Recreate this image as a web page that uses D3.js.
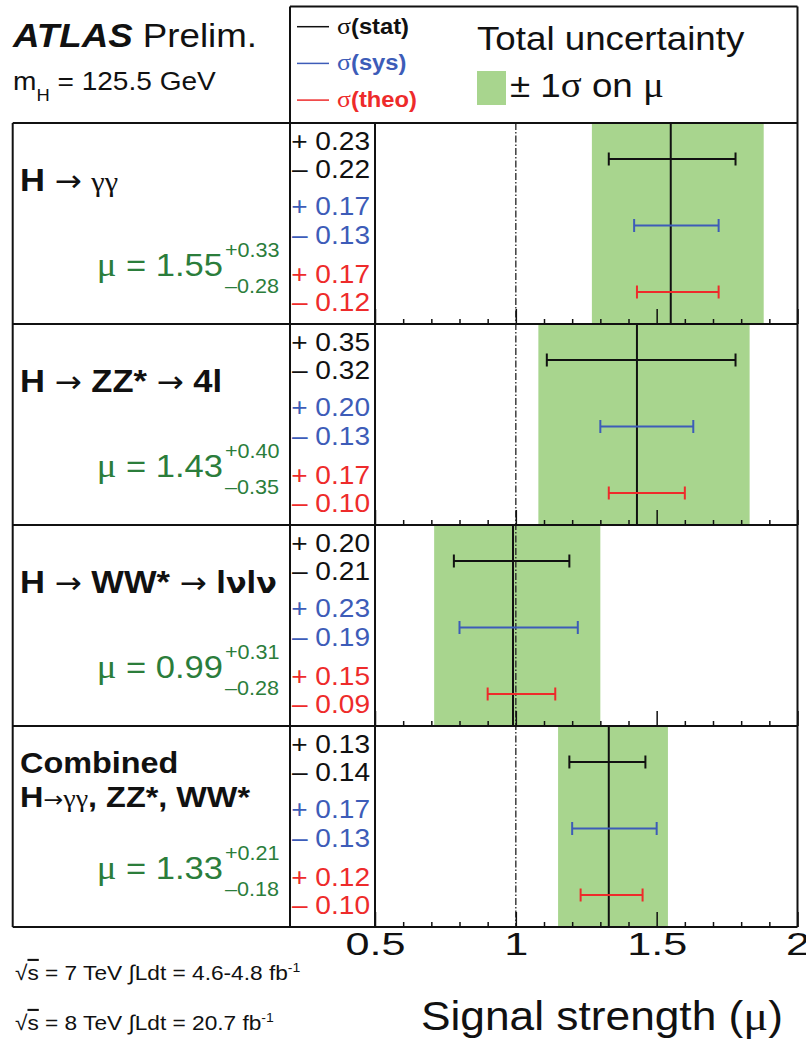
<!DOCTYPE html>
<html>
<head>
<meta charset="utf-8">
<script src="https://cdn.jsdelivr.net/npm/d3@7"></script>
<style>
  html, body { margin: 0; padding: 0; background: #fff; }
  svg { display: block; font-family: "Liberation Sans", Arial, Helvetica, sans-serif; }
  .greek { font-family: "Liberation Serif", "DejaVu Serif", serif; }
</style>
</head>
<body>
<div id="chart"></div>
<script>
// decay channels, top to bottom
const channels = ["H → γγ", "H → ZZ* → 4l", "H → WW* → lνlν", "Combined|H→γγ, ZZ*, WW*"];

// signal strength and its uncertainties
const mu = [1.55, 1.43, 0.99, 1.33];
const totalUp = [0.33, 0.40, 0.31, 0.21];
const totalDown = [0.28, 0.35, 0.28, 0.18];
const statUp = [0.23, 0.35, 0.20, 0.13];
const statDown = [0.22, 0.32, 0.21, 0.14];
const sysUp = [0.17, 0.20, 0.23, 0.17];
const sysDown = [0.13, 0.13, 0.19, 0.13];
const theoUp = [0.17, 0.17, 0.15, 0.12];
const theoDown = [0.12, 0.10, 0.09, 0.10];

const axisTicks = [0.5, 1, 1.5, 2];
const minorTicks = d3.range(5, 21).map(d => d / 10);
const legendEntries = ["stat", "sys", "theo"];
const energies = ["7", "8"];
const lumis = ["4.6-4.8", "20.7"];

const W = 806, H = 1041, SX = 1.08;
const green = "#2b7d3b", band = "#a8d58e";
const rowColors = ["#111", "#3d5cb8", "#ee2b2b"];

const left = 12.7, right = 797.5, colA = 290, panelTop = 123, panelH = 201;
const xScale = d3.scaleLinear().domain([0.5, 2]).range([375, right]);

const svg = d3.select("#chart").append("svg")
    .attr("width", W)
    .attr("height", H);

// text helper: fonts in the original are slightly wider than Arial
function addText(parent, x, y, size, opts = {}) {
    return parent.append("text")
        .attr("transform", `translate(${x},${y}) scale(${opts.sx || SX},1)`)
        .attr("text-anchor", opts.anchor || "start")
        .style("font-size", size + "px")
        .style("font-weight", opts.bold ? "bold" : null)
        .style("font-style", opts.italic ? "italic" : null)
        .attr("fill", opts.color || "#111");
}

// greek letters come from the symbol font in the original
function greek(t, ch) {
    return t.append("tspan").attr("class", "greek").style("font-weight", "normal").text(ch);
}

// header
const head = addText(svg, 13, 46.7, 34);
head.append("tspan").style("font-weight", "bold").style("font-style", "italic").text("ATLAS");
head.append("tspan").text(" Prelim.");

const mh = addText(svg, 13, 90, 26);
mh.append("tspan").text("m");
mh.append("tspan").attr("dy", 11).style("font-size", "17px").text("H");
mh.append("tspan").attr("dy", -11).text(" = 125.5 GeV");

// legend
legendEntries.forEach((name, i) => {
    const y = 26.7 + i * 36.7;
    svg.append("line")
        .attr("x1", 297).attr("x2", 329)
        .attr("y1", y).attr("y2", y)
        .attr("stroke", rowColors[i])
        .attr("stroke-width", 1.5);
    const t = addText(svg, 337, y + 7, 22, { color: rowColors[i] });
    greek(t, "σ").style("font-size", "24px");
    t.append("tspan").style("font-weight", "bold").text(`(${name})`);
});
addText(svg, 477, 50, 34).text("Total uncertainty");
svg.append("rect")
    .attr("x", 477).attr("y", 71)
    .attr("width", 29).attr("height", 34)
    .attr("fill", band);
const pm = addText(svg, 510, 97, 34);
pm.append("tspan").text("± 1");
greek(pm, "σ").style("font-size", "36px");
pm.append("tspan").text(" on ");
greek(pm, "μ").style("font-size", "36px");

// channel label: arrows and gammas are set in a lighter font
function drawLabel(g, str, y, size, tight) {
    const t = addText(g, 20, y, size, { bold: true });
    str.split(/(→|γγ|ν)/).filter(s => s.length).forEach(part => {
        if (part === "→") {
            t.append("tspan")
                .style("font-family", "'DejaVu Sans', sans-serif")
                .style("font-weight", "normal")
                .style("font-size", (tight ? size - 8 : size - 2) + "px")
                .text(part);
        } else if (part === "γγ") {
            greek(t, part).style("font-size", (size - 4) + "px");
        } else if (part === "ν") {
            t.append("tspan").style("font-family", "'DejaVu Sans', sans-serif").style("font-size", (size - 4) + "px").text(part);
        } else {
            t.append("tspan").text(part);
        }
    });
}

const plot = svg.append("g");
const rows = [[statUp, statDown], [sysUp, sysDown], [theoUp, theoDown]];
const barOffsets = [36, 102.5, 169];
const numOffsets = [[27, 55], [92, 121], [160, 188]];

channels.forEach((name, i) => {
    const top = panelTop + i * panelH;
    const g = plot.append("g").attr("transform", `translate(0,${top})`);

    // total uncertainty band
    g.append("rect")
        .attr("x", xScale(mu[i] - totalDown[i]))
        .attr("width", xScale(mu[i] + totalUp[i]) - xScale(mu[i] - totalDown[i]))
        .attr("y", 0)
        .attr("height", panelH)
        .attr("fill", band);

    // labels
    const parts = name.split("|");
    if (parts.length > 1) {
        drawLabel(g, parts[0], 46.6, 30, true);
        drawLabel(g, parts[1], 81, 30, true);
    } else {
        drawLabel(g, parts[0], 68, 32, false);
    }

    const mt = addText(g, 223, 152.7, 32, { anchor: "end", color: green });
    greek(mt, "μ").style("font-size", "34px");
    mt.append("tspan").text(` = ${mu[i].toFixed(2)}`);
    addText(g, 225, 134.4, 20, { color: green }).text(`+${totalUp[i].toFixed(2)}`);
    addText(g, 225, 170, 20, { color: green }).text(`–${totalDown[i].toFixed(2)}`);

    // component numbers
    rows.forEach(([up, dn], r) => {
        addText(g, 370, numOffsets[r][0], 26, { anchor: "end", color: rowColors[r] })
            .text(`+ ${up[i].toFixed(2)}`);
        addText(g, 370, numOffsets[r][1], 26, { anchor: "end", color: rowColors[r] })
            .text(`– ${dn[i].toFixed(2)}`);
    });
});

// mu = 1 reference
plot.append("line")
    .attr("x1", xScale(1)).attr("x2", xScale(1))
    .attr("y1", panelTop).attr("y2", panelTop + 4 * panelH)
    .attr("stroke", "#222")
    .attr("stroke-width", 1.3)
    .attr("stroke-dasharray", "7,2,1.5,2");

channels.forEach((name, i) => {
    const top = panelTop + i * panelH;
    const g = plot.append("g").attr("transform", `translate(0,${top})`);

    g.append("line")
        .attr("x1", xScale(mu[i])).attr("x2", xScale(mu[i]))
        .attr("y1", 0).attr("y2", panelH)
        .attr("stroke", "#111")
        .attr("stroke-width", 2);

    rows.forEach(([up, dn], r) => {
        const y = barOffsets[r];
        const x0 = xScale(mu[i] - dn[i]), x1 = xScale(mu[i] + up[i]);
        const bar = g.append("g").attr("stroke", rowColors[r]).attr("stroke-width", 2);
        bar.append("line").attr("x1", x0).attr("x2", x1).attr("y1", y).attr("y2", y);
        [x0, x1].forEach(x => {
            bar.append("line").attr("x1", x).attr("x2", x).attr("y1", y - 6.5).attr("y2", y + 6.5);
        });
    });

    // ticks along the bottom of each panel
    const ax = g.append("g")
        .attr("transform", `translate(0,${panelH})`)
        .call(d3.axisBottom(xScale).tickValues(minorTicks).tickSizeInner(-5).tickSizeOuter(0).tickFormat(""));
    ax.select(".domain").remove();
    ax.selectAll(".tick line")
        .attr("stroke", "#111")
        .attr("stroke-width", 1.5)
        .attr("y2", d => Math.abs(d * 2 - Math.round(d * 2)) < 1e-6 ? -15 : -5);
});

// frame
const frame = svg.append("g").attr("stroke", "#111").attr("stroke-width", 2).attr("fill", "none");
d3.range(5).forEach(k => {
    const y = panelTop + k * panelH;
    frame.append("line").attr("x1", left).attr("x2", right).attr("y1", y).attr("y2", y);
});
[left, xScale(0.5)].forEach(x => {
    frame.append("line").attr("x1", x).attr("x2", x).attr("y1", panelTop).attr("y2", panelTop + 4 * panelH);
});
[colA, right].forEach(x => {
    frame.append("line").attr("x1", x).attr("x2", x).attr("y1", 6.5).attr("y2", panelTop + 4 * panelH);
});
frame.append("line").attr("x1", colA).attr("x2", right).attr("y1", 6.5).attr("y2", 6.5);

// x axis labels
const axisG = svg.append("g")
    .attr("transform", `translate(0,${panelTop + 4 * panelH})`)
    .call(d3.axisBottom(xScale).tickValues(axisTicks).tickSize(0).tickFormat(d3.format("~g")));
axisG.attr("font-family", null).attr("font-size", null);
axisG.select(".domain").remove();
axisG.selectAll(".tick text")
    .attr("y", 28)
    .attr("dy", null)
    .attr("transform", "scale(1.35,1)")
    .attr("fill", "#111")
    .style("font-size", "32px");

const xt = addText(svg, 783, 1030, 41, { anchor: "end" });
xt.append("tspan").text("Signal strength (");
greek(xt, "μ").style("font-size", "43px");
xt.append("tspan").text(")");

// luminosity notes
energies.forEach((e, i) => {
    const t = addText(svg, 15, 980 + i * 50, 21);
    t.append("tspan").text("√");
    t.append("tspan").style("text-decoration", "overline").text("s");
    t.append("tspan").text(` = ${e} TeV ∫Ldt = ${lumis[i]} fb`);
    t.append("tspan").attr("dy", -8).style("font-size", "13px").text("-1");
});
</script>
</body>
</html>
